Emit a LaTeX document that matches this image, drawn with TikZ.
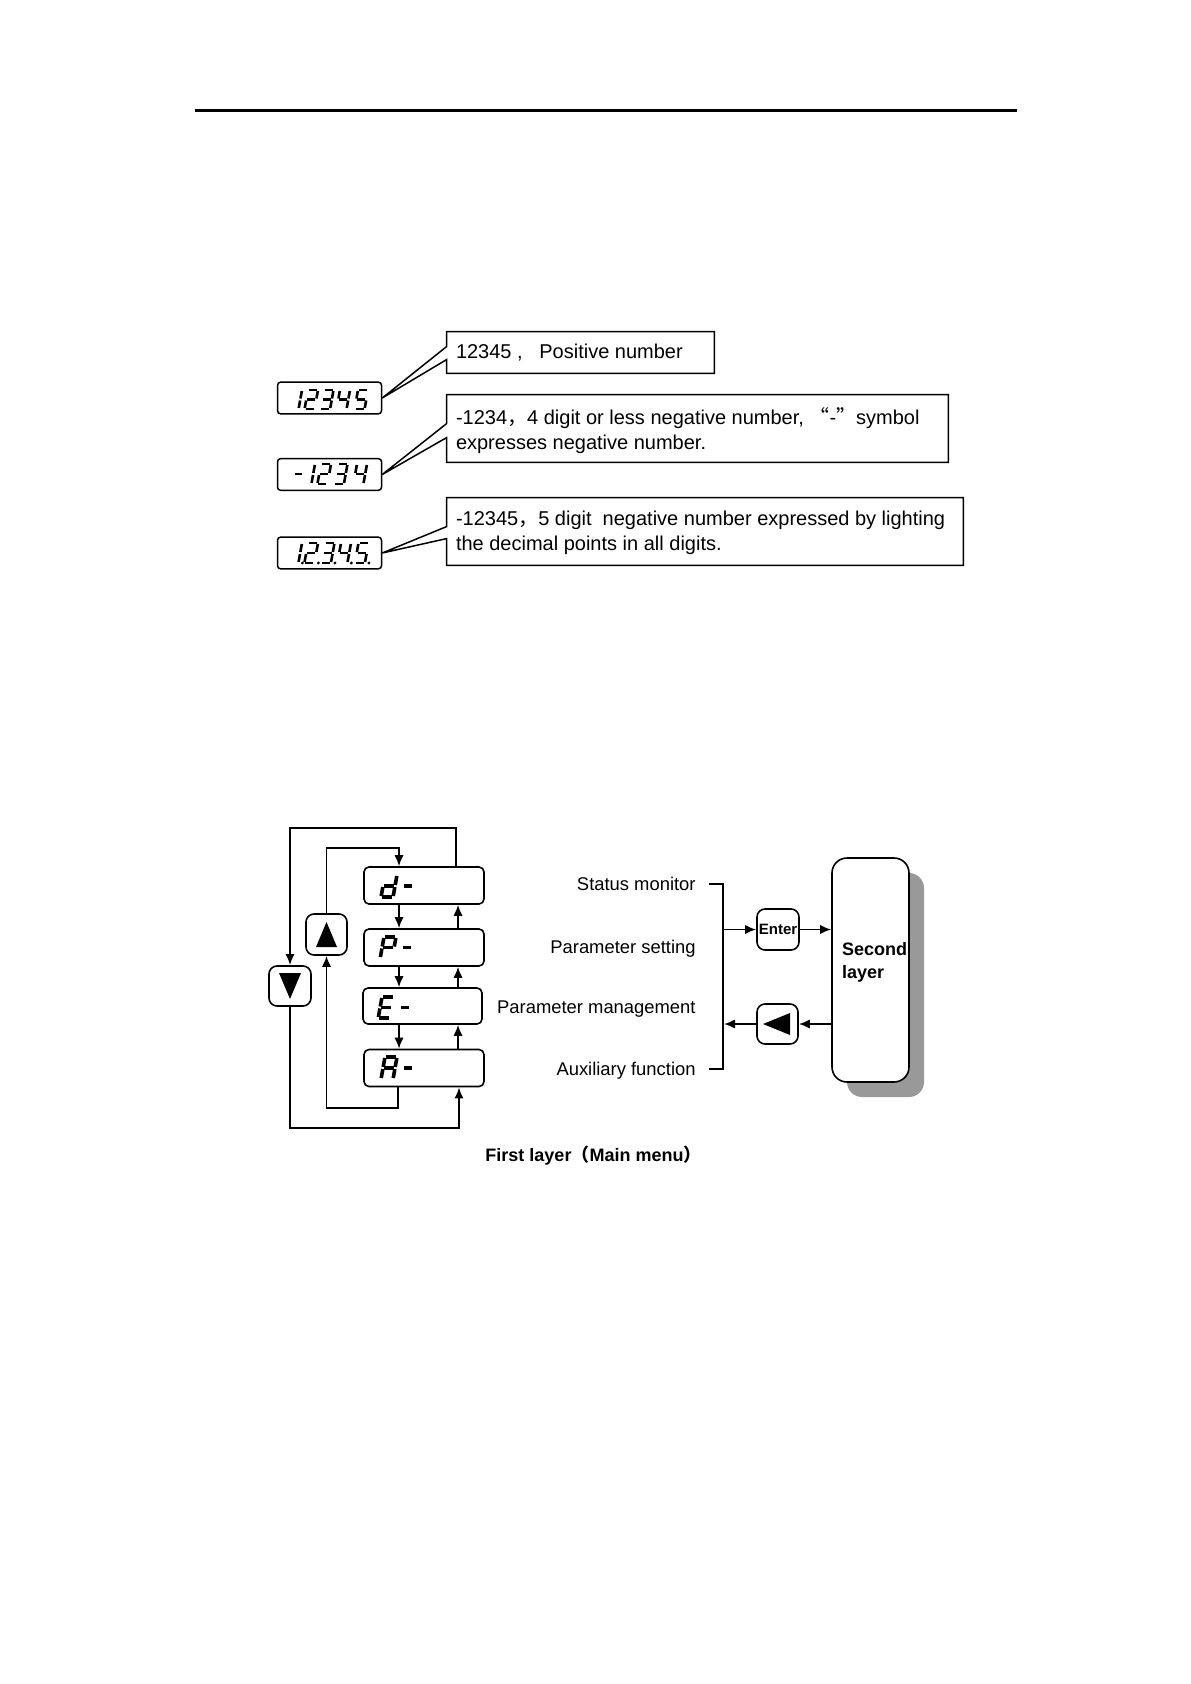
\documentclass[tikz,border=0pt]{standalone}
\usepackage{fontspec}
\setmainfont{Liberation Sans}
\newfontfamily\cjk{Noto Sans CJK SC}
\usetikzlibrary{arrows.meta,calc,shadows}

\newcommand\sgxa{\draw (1,0)--(\segw-1,0);}
\newcommand\sgxb{\draw (\segw,1)--(\segw,\segh/2-1);}
\newcommand\sgxc{\draw (\segw,\segh/2+1)--(\segw,\segh-1);}
\newcommand\sgxd{\draw (1,\segh)--(\segw-1,\segh);}
\newcommand\sgxe{\draw (0,\segh/2+1)--(0,\segh-1);}
\newcommand\sgxf{\draw (0,1)--(0,\segh/2-1);}
\newcommand\sgxg{\draw (1,\segh/2)--(\segw-1,\segh/2);}
\newcommand\sgxp{\fill (\segw+4,\segh) circle[radius=0.8pt];}
\newcommand\sevseg[6]{%
  \begin{scope}[shift={(#1,#2)},xslant=0.18,line width=#5]
    \def\segw{#3}\def\segh{#4}%
    \foreach \s in {#6}{\csname sgx\s\endcsname}
  \end{scope}}

\begin{document}
\begin{tikzpicture}[x=0.5pt,y=-0.5pt,
  disp/.style={draw,line width=0.75pt,rounded corners=1.5pt,minimum width=52pt,minimum height=15.8pt,inner sep=0},
  cbox/.style={minimum height=#1,inner sep=0,draw=none},
  ctext/.style={font=\fontsize{10}{12.5}\selectfont,align=left,anchor=west,inner xsep=4.5pt,inner ysep=0},
  cline/.style={line width=0.75pt,line join=miter},
  menubox/.style={draw,line width=0.8pt,rounded corners=2.5pt,minimum width=60pt,minimum height=18.5pt,inner sep=0},
  btn/.style={draw,line width=0.8pt,rounded corners=4pt,minimum width=20.5pt,minimum height=20.5pt,inner sep=0},
  arr/.style={line width=0.85pt,-{Latex[length=5.5pt,width=4.6pt]}},
  arrthick/.style={line width=1pt,-{Latex[length=5.5pt,width=4.6pt]}},
  lbl/.style={font=\fontsize{9.2}{11}\selectfont,anchor=base east,inner sep=0},
]
\useasboundingbox (0,0) rectangle (1190,1684);

% top rule
\coordinate (rl) at (195,111);
\coordinate (rr) at (1017,111);
\draw[line width=1.5pt] (rl) -- (rr);

% ---------- displays and callouts ----------
\node[disp] (disp1) at (329.5,398) {};
\node[disp] (disp2) at (329.5,474.5) {};
\node[disp] (disp3) at (329.5,553) {};

\node[cbox=20.5pt,minimum width=133.5pt] (c1) at (580.5,352.5) {};
\node[cbox=33.5pt,minimum width=250.5pt] (c2) at (697.5,428.5) {};
\node[cbox=33.5pt,minimum width=258pt] (c3) at (705,531.5) {};

\draw[cline] (c1.north west) -- (c1.north east) -- (c1.south east) -- (c1.south west)
  -- ($(c1.north west)+(0,28)$) -- (disp1.east) -- ($(c1.north west)+(0,15)$) -- cycle;
\draw[cline] (c2.north west) -- (c2.north east) -- (c2.south east) -- (c2.south west)
  -- ($(c2.north west)+(0,43)$) -- (disp2.east) -- ($(c2.north west)+(0,29)$) -- cycle;
\draw[cline] (c3.north west) -- (c3.north east) -- (c3.south east) -- (c3.south west)
  -- ($(c3.north west)+(0,41)$) -- (disp3.east) -- ($(c3.north west)+(0,29)$) -- cycle;

\node[ctext] (t1) at (c1.west) {12345 ,\ \ \ Positive number};
\node[ctext] (t2) at ($(c2.west)+(0,2.5)$) {-1234{\cjk ，}4 digit or less negative number,\ {\cjk “}-{\cjk ”}symbol\\expresses negative number.};
\node[ctext] (t3) at ($(c3.west)+(0,1.5)$) {-12345{\cjk ，}5 digit\ \ negative number expressed by lighting\\the decimal points in all digits.};

% seven segment digits
\sevseg{292}{390}{10}{19}{1.3pt}{b,c}
\sevseg{308}{390}{10}{19}{1.3pt}{a,b,g,e,d}
\sevseg{323.5}{390}{10}{19}{1.3pt}{a,b,g,c,d}
\sevseg{340}{390}{10}{19}{1.3pt}{f,g,b,c}
\sevseg{358}{390}{10}{19}{1.3pt}{a,f,g,c,d}

\sevseg{296}{464}{9}{20}{1.3pt}{g}
\sevseg{305}{464}{10}{20}{1.3pt}{b,c}
\sevseg{321}{464}{10}{20}{1.3pt}{a,b,g,e,d}
\sevseg{337.5}{464}{10}{20}{1.3pt}{a,b,g,c,d}
\sevseg{357}{464}{10}{20}{1.3pt}{f,g,b,c}

\sevseg{292}{543}{10}{20}{1.3pt}{b,c,p}
\sevseg{308}{543}{10}{20}{1.3pt}{a,b,g,e,d,p}
\sevseg{324.5}{543}{10}{20}{1.3pt}{a,b,g,c,d,p}
\sevseg{341}{543}{10}{20}{1.3pt}{f,g,b,c,p}
\sevseg{358.5}{543}{10}{20}{1.3pt}{a,f,g,c,d,p}

% ---------- menu diagram ----------
\node[menubox] (md) at (424,885.5) {};
\node[menubox] (mp) at (424,947.5) {};
\node[menubox,minimum width=59.5pt,minimum height=18pt] (me) at (422.5,1006) {};
\node[menubox] (ma) at (424,1068) {};

\sevseg{385}{875}{12}{22}{1.8pt}{b,c,d,e,g}
\sevseg{405}{875}{10}{22}{1.8pt}{g}
\sevseg{384}{937}{12}{21}{1.8pt}{a,b,e,f,g}
\sevseg{404}{937}{10}{21}{1.8pt}{g}
\sevseg{382}{997}{12}{21}{1.8pt}{a,d,e,f,g}
\sevseg{402}{997}{10}{21}{1.8pt}{g}
\sevseg{385}{1057}{12}{22}{1.8pt}{a,b,c,e,f,g}
\sevseg{405}{1057}{10}{22}{1.8pt}{g}

\node[btn] (up) at (326.5,934.5) {};
\node[btn,minimum width=21pt,minimum height=20pt] (dn) at (290,986) {};
\fill ($(up.center)+(0,-12.5)$) -- ($(up.center)+(10.5,12.5)$) -- ($(up.center)+(-10.5,12.5)$) -- cycle;
\fill ($(dn.center)+(0,13)$) -- ($(dn.center)+(11,-13)$) -- ($(dn.center)+(-11,-13)$) -- cycle;

\coordinate (cd) at (399,0);
\coordinate (cu) at (458,0);
\draw[arr] (md.south -| cd) -- (mp.north -| cd);
\draw[arr] (mp.south -| cd) -- (me.north -| cd);
\draw[arr] (me.south -| cd) -- (ma.north -| cd);
\draw[arr] (mp.north -| cu) -- (md.south -| cu);
\draw[arr] (me.north -| cu) -- (mp.south -| cu);
\draw[arr] (ma.north -| cu) -- (me.south -| cu);

% outer loop
\coordinate (o1) at (456,828);
\coordinate (o4) at (459,1128);
\draw[arrthick] (md.north -| o1) -- (o1) -| (dn.north);
\draw[arrthick] (dn.south) |- (o4) -- (ma.south -| o4);
% inner loop
\coordinate (i1) at (398,1108);
\coordinate (i3) at (399,848);
\draw[arr] (ma.south -| i1) -- (i1) -| (up.south);
\draw[arr] (up.north) |- (i3) -- (md.north -| i3);

% labels
\node[lbl] (l1) at (696,890) {Status monitor};
\node[lbl] (l2) at (696,953) {Parameter setting};
\node[lbl] (l3) at (696,1013) {Parameter management};
\node[lbl] (l4) at (696,1075) {Auxiliary function};

% bracket
\coordinate (b1) at (709,884);
\coordinate (b2) at (723,884);
\coordinate (b3) at (723,1069);
\coordinate (b4) at (709,1069);
\draw[line width=1.2pt] (b1) -- (b2) -- (b3) -- (b4);

\node[btn,minimum width=21pt] (enter) at (778,929.5) {\fontsize{7.5}{9}\selectfont\bfseries Enter};
\node[btn,minimum height=20pt] (back) at (777.5,1024) {};
\fill ($(back.center)+(-14.5,0)$) -- ($(back.center)+(12.5,-11)$) -- ($(back.center)+(12.5,11)$) -- cycle;

\node[draw,fill=white,line width=0.8pt,rounded corners=7.5pt,minimum width=38.5pt,minimum height=112pt,inner sep=0,
  drop shadow={shadow xshift=7.5pt,shadow yshift=-7.5pt,fill=black!40,opacity=1}] (sec) at (870.5,970) {};
\node[font=\fontsize{9}{11.5}\selectfont\bfseries,align=left,inner sep=0] (slbl) at (874.5,962) {Second\\layer};

\coordinate (ba) at (723,929.5);
\coordinate (bb) at (724,1024);
\draw[arr] (ba) -- (enter.west);
\draw[arr] (enter.east) -- (enter.east -| sec.west);
\draw[arr] (back.east -| sec.west) -- (back.east);
\draw[arr] (back.west) -- (bb);

% caption
\node[font=\fontsize{9}{11}\selectfont\bfseries,inner sep=0] (cap) at (593.5,1156) {First layer{\cjk （}Main menu{\cjk ）}};
\end{tikzpicture}
\end{document}
